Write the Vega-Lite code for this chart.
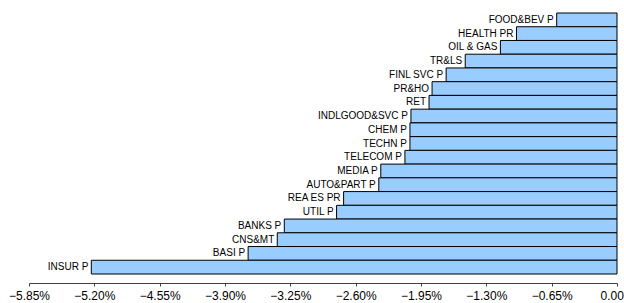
{
  "$schema": "https://vega.github.io/schema/vega-lite/v6.json",
  "width": 588,
  "height": 261,
  "autosize": "none",
  "padding": {"left": 29, "top": 13, "right": 7, "bottom": 29},
  "background": "white",
  "data": {
    "values": [
      {"sector": "FOOD&BEV  P", "value": -0.60},
      {"sector": "HEALTH PR", "value": -1.00},
      {"sector": "OIL & GAS", "value": -1.16},
      {"sector": "TR&LS", "value": -1.51},
      {"sector": "FINL SVC P", "value": -1.70},
      {"sector": "PR&HO", "value": -1.84},
      {"sector": "RET", "value": -1.87},
      {"sector": "INDLGOOD&SVC P", "value": -2.05},
      {"sector": "CHEM P", "value": -2.06},
      {"sector": "TECHN P", "value": -2.06},
      {"sector": "TELECOM P", "value": -2.11},
      {"sector": "MEDIA P", "value": -2.35},
      {"sector": "AUTO&PART P", "value": -2.37},
      {"sector": "REA ES PR", "value": -2.72},
      {"sector": "UTIL P", "value": -2.79},
      {"sector": "BANKS P", "value": -3.31},
      {"sector": "CNS&MT", "value": -3.38},
      {"sector": "BASI P", "value": -3.67},
      {"sector": "INSUR P", "value": -5.23}
    ]
  },
  "encoding": {
    "y": {
      "field": "sector",
      "type": "nominal",
      "sort": null,
      "scale": {"paddingInner": 0, "paddingOuter": 0},
      "axis": null
    },
    "x": {
      "field": "value",
      "type": "quantitative",
      "scale": {"domain": [-5.85, 0], "nice": false, "zero": false},
      "axis": {
        "title": null,
        "grid": false,
        "values": [-5.85, -5.2, -4.55, -3.9, -3.25, -2.6, -1.95, -1.3, -0.65, 0],
        "labelExpr": "format(datum.value, '.2f') + '%'",
        "labelFlush": false,
        "labelOverlap": false,
        "labelBound": false,
        "offset": 9,
        "domainColor": "#404040",
        "tickColor": "#404040",
        "tickSize": 3,
        "labelPadding": 4,
        "labelFont": "Liberation Sans",
        "labelFontSize": 12,
        "labelColor": "black"
      }
    }
  },
  "layer": [
    {
      "mark": {"type": "bar", "fill": "#99CCFF", "stroke": "black", "strokeWidth": 1},
      "encoding": {"x2": {"datum": 0}}
    },
    {
      "mark": {"type": "text", "align": "right", "baseline": "middle", "dx": -3, "font": "Liberation Sans", "fontSize": 10, "color": "black"},
      "encoding": {"text": {"field": "sector"}}
    }
  ],
  "config": {"view": {"stroke": null}}
}
